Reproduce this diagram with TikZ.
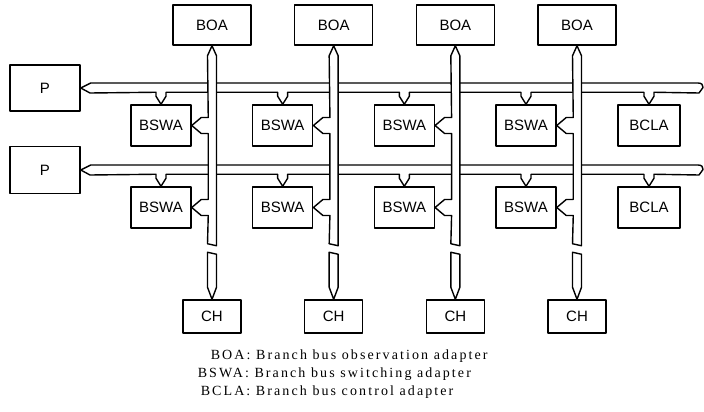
\documentclass[tikz,border=0pt]{standalone}
\usepackage{fontspec}
\newfontfamily\boxfont{Liberation Sans}
\newfontfamily\legfont[LetterSpace=15]{Liberation Serif}
\usetikzlibrary{calc}
\begin{document}
\begin{tikzpicture}[x=1pt,y=-1pt,line width=1.5pt,line join=round,
  blk/.style={draw,rectangle,inner sep=0pt,font=\boxfont\fontsize{15}{15}\selectfont},
  busline/.style={draw,fill=white,line width=1.4pt},
  legend/.style={anchor=west,inner sep=0pt,font=\legfont\fontsize{14}{14}\selectfont}]
\useasboundingbox (0,0) rectangle (704,412);
% processors
\node[blk,minimum width=70pt,minimum height=46pt] (P1) at (45,88) {P};
\node[blk,minimum width=70pt,minimum height=47pt] (P2) at (45,170) {P};
% columns
\foreach \i in {1,...,4}{
  \pgfmathsetmacro{\xc}{212+121.67*(\i-1)}
  \pgfmathsetmacro{\xs}{\xc-51}
  \node[blk,minimum width=78pt,minimum height=40pt] (BOA\i) at (\xc,25) {BOA};
  \node[blk,minimum width=60pt,minimum height=41pt] (SA1\i) at (\xs,125.5) {BSWA};
  \node[blk,minimum width=60pt,minimum height=41pt] (SA2\i) at (\xs,207.5) {BSWA};
  \node[blk,minimum width=58pt,minimum height=33pt] (CH\i) at (\xc,316.5) {CH};
}
\node[blk,minimum width=62pt,minimum height=41pt] (SA15) at (649,125.5) {BCLA};
\node[blk,minimum width=62pt,minimum height=41pt] (SA25) at (649,207.5) {BCLA};
% horizontal buses
\foreach \r/\t/\b in {1/83/93,2/165/175}{
  \draw[busline] (P\r.east) -- ++(10,-5) -- (698,\t)
    .. controls (702,\t) and (703,\t+2) .. (703,\t+4.5) -- (699,\b)
    foreach \c in {5,4,3,2,1}{
      -- ($(SA\r\c.north)+(5,-12)$) -- ($(SA\r\c.north)+(5,-8)$) -- (SA\r\c.north)
      -- ($(SA\r\c.north)+(-5,-8)$) -- ($(SA\r\c.north)+(-5,-12)$)
    }
    -- (90,\b) -- cycle;
}
% vertical buses
\foreach \i in {1,...,4}{
  \draw[busline] (BOA\i.south) -- ++(-4.5,10)
    -- ($(SA1\i.east)+(16.5,-8)$) -- ++(-7,0) -- (SA1\i.east) -- ++(9.5,8) -- ++(7,0)
    -- ($(SA2\i.east)+(16.5,-8)$) -- ++(-7,0) -- (SA2\i.east) -- ++(9.5,8) -- ++(7,0)
    -- ($(BOA\i.south)+(-4.5,198)$) -- ++(9,2) -- ($(BOA\i.south)+(4.5,10)$) -- cycle;
  \draw[busline] ($(CH\i.north)+(-4.5,-47)$) -- ++(9,2) -- ($(CH\i.north)+(4.5,-12)$)
    -- (CH\i.north) -- ($(CH\i.north)+(-4.5,-12)$) -- cycle;
}
% legend
\node[legend] (leg1) at (210,356) {BOA: Branch bus observation adapter};
\node[legend] (leg2) at (197,374) {BSWA: Branch bus switching adapter};
\node[legend] (leg3) at (200,392) {BCLA: Branch bus control adapter};
\end{tikzpicture}
\end{document}
